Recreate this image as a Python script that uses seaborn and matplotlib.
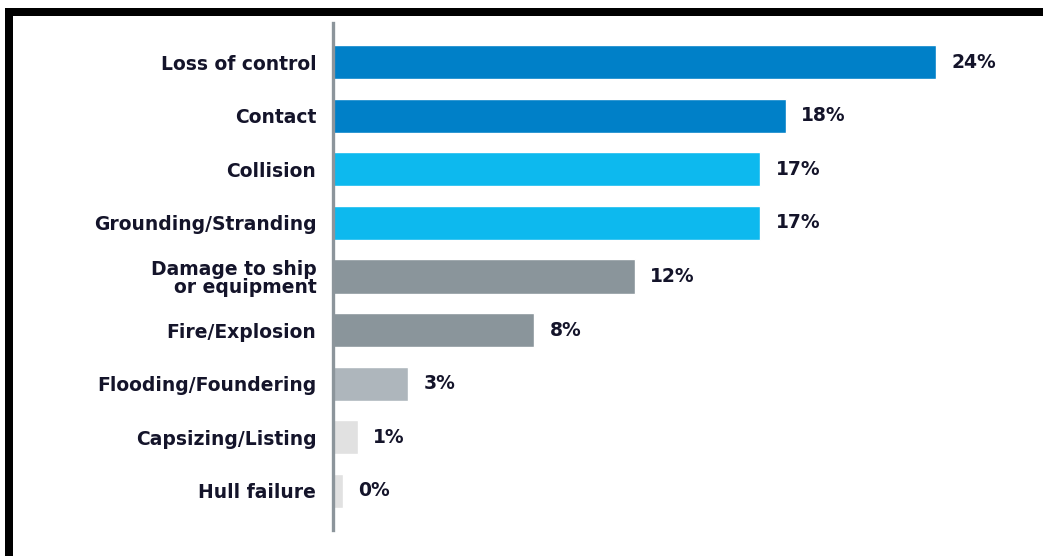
import matplotlib
matplotlib.use("Agg")
import matplotlib.pyplot as plt
from matplotlib.patches import Rectangle
import seaborn as sns
import pandas as pd

# Share of incidents by cause (percent)
causes = [
    "Loss of control",
    "Contact",
    "Collision",
    "Grounding/Stranding",
    "Damage to ship\nor equipment",
    "Fire/Explosion",
    "Flooding/Foundering",
    "Capsizing/Listing",
    "Hull failure",
]
shares = [24.0, 18.0, 17.0, 17.0, 12.0, 8.0, 3.0, 1.0, 0.4]
bar_colors = [
    "#0080C8", "#0080C8",
    "#0DB9EE", "#0DB9EE",
    "#8A959B", "#8A959B",
    "#AEB6BC",
    "#E1E1E1", "#E1E1E1",
]

df = pd.DataFrame({"cause": causes, "share": shares})

sns.set_theme(style="white")
plt.rcParams["font.family"] = ["DejaVu Sans"]

W, H = 1043, 556
fig = plt.figure(figsize=(W / 100, H / 100), dpi=100)
ax = fig.add_axes([333 / W, 1 - 530 / H, (1037 - 333) / W, (530 - 23) / H])

sns.barplot(
    data=df, x="share", y="cause", hue="cause", palette=bar_colors,
    orient="h", width=0.64, legend=False, saturation=1, ax=ax,
)

text_color = "#14142A"
for i, v in enumerate(shares):
    ax.annotate(f"{v:.0f}%", xy=(v, i), xytext=(11, 0), textcoords="offset points",
                ha="left", va="center", fontsize=13.5, fontweight="bold",
                color=text_color)

ax.set_xlim(0, 28)
ax.set_ylim(8.73, -0.73)
ax.set_xlabel("")
ax.set_ylabel("")
ax.set_xticks([])
ax.tick_params(axis="y", length=0, pad=12)
for lbl in ax.get_yticklabels():
    lbl.set_fontsize(13.5)
    lbl.set_fontweight("bold")
    lbl.set_color(text_color)
    lbl.set_multialignment("right")
    lbl.set_linespacing(0.95)

for side in ["top", "right", "bottom"]:
    ax.spines[side].set_visible(False)
ax.spines["left"].set_color("#8C959B")
ax.spines["left"].set_linewidth(2.4)

# Frame strokes along the top and left edges
fig.add_artist(Rectangle((5 / W, 1 - 16 / H), 1 - 5 / W, 8 / H,
                         transform=fig.transFigure, color="black", lw=0))
fig.add_artist(Rectangle((5 / W, 0), 8 / W, 1 - 8 / H,
                         transform=fig.transFigure, color="black", lw=0))

fig.savefig("out.png", dpi=100)
